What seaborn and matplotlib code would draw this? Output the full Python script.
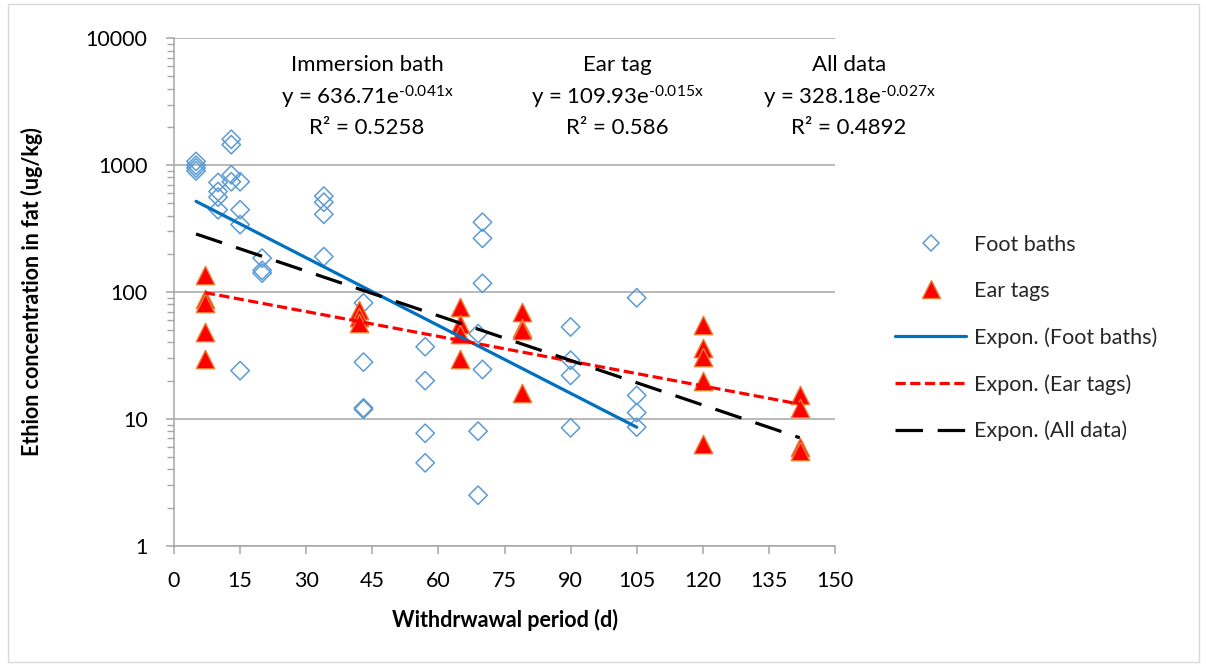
import numpy as np
import pandas as pd
import matplotlib
matplotlib.use("Agg")
import matplotlib.pyplot as plt
from matplotlib.lines import Line2D
from matplotlib.patches import Rectangle
from matplotlib.ticker import LogLocator, FixedLocator, NullFormatter
import seaborn as sns

# Foot-bath (immersion) residues: withdrawal day and ethion in fat (ug/kg)
foot_days = [5, 5, 5, 5,
             10, 10, 10, 10,
             13, 13, 13, 13,
             15, 15, 15, 15,
             20, 20, 20,
             34, 34, 34, 34,
             43, 43, 43, 43,
             57, 57, 57, 57,
             69, 69, 69,
             70, 70, 70, 70,
             90, 90, 90, 90,
             105, 105, 105, 105]
foot_conc = [1070, 1000, 950, 900,
             730, 620, 560, 445,
             1600, 1450, 840, 740,
             740, 445, 340, 24,
             185, 148, 141,
             570, 510, 410, 190,
             82, 28, 12.2, 11.9,
             37, 20, 7.7, 4.5,
             47, 8, 2.5,
             355, 265, 117, 24.5,
             53, 29, 22, 8.5,
             90, 15.3, 11.2, 8.6]

# Ear-tag residues
tag_days = [7, 7, 7, 7, 7,
            42, 42, 42,
            65, 65, 65, 65,
            79, 79, 79, 79,
            120, 120, 120, 120, 120,
            142, 142, 142, 142]
tag_conc = [135, 88, 82, 48, 29.5,
            72, 63, 57,
            76, 56, 47, 29.5,
            70, 52, 50, 16,
            55, 36, 31, 20, 6.3,
            15.3, 12.1, 6.0, 5.6]

# Exponential trendlines y = a * exp(b * x) as reported on the chart
fit_names = ["Foot baths", "Ear tags", "All data"]
fit_a = [636.71, 109.93, 328.18]
fit_b = [-0.041, -0.015, -0.027]
fit_r2 = ["0.5258", "0.586", "0.4892"]
fit_titles = ["Immersion bath", "Ear tag", "All data"]

x_ticks = list(range(0, 151, 15))
y_ticks = [1, 10, 100, 1000, 10000]

sns.set_theme(style="white")
plt.rcParams["font.family"] = ["Lato", "DejaVu Sans"]
plt.rcParams["mathtext.fontset"] = "custom"
plt.rcParams["mathtext.rm"] = "Lato"

W, H = 1206, 664
fig = plt.figure(figsize=(W / 100, H / 100), dpi=100)
fig.patch.set_facecolor("white")
ax = fig.add_axes([174 / W, 1 - 545.7 / H, (835 - 174) / W, (545.7 - 38.3) / H])

df_foot = pd.DataFrame({"day": foot_days, "conc": foot_conc})
df_tag = pd.DataFrame({"day": tag_days, "conc": tag_conc})

foot_color = "#5B9BD5"
sns.scatterplot(data=df_foot, x="day", y="conc", ax=ax, marker="D", s=88,
                facecolor="none", edgecolor=foot_color, linewidth=1.1,
                zorder=3, legend=False)
sns.scatterplot(data=df_tag, x="day", y="conc", ax=ax, marker="^", s=175,
                color="#FF0000", edgecolor="#ED7D31", linewidth=1.0,
                zorder=4, legend=False)

# trendline extents follow the data range of each series
all_days = foot_days + tag_days
ranges = [(min(foot_days), max(foot_days)),
          (min(tag_days), max(tag_days)),
          (min(all_days), max(all_days))]
line_styles = [
    dict(color="#0070C0", linestyle="-"),
    dict(color="#FF0000", dashes=(3.2, 1.4)),
    dict(color="#000000", dashes=(8.6, 4.6)),
]
for (lo, hi), a, b, st in zip(ranges, fit_a, fit_b, line_styles):
    xs = np.linspace(lo, hi, 50)
    tl = pd.DataFrame({"day": xs, "conc": a * np.exp(b * xs)})
    kw = dict(st)
    dashes = kw.pop("dashes", None)
    sns.lineplot(data=tl, x="day", y="conc", ax=ax, linewidth=2.3,
                 zorder=5, legend=False, **kw)
    if dashes is not None:
        ax.lines[-1].set_dashes(dashes)
        ax.lines[-1].set_dash_capstyle("butt")

ax.set_yscale("log")
ax.set_xlim(0, 150)
ax.set_ylim(1, 10000)
ax.xaxis.set_major_locator(FixedLocator(x_ticks))
ax.set_xticklabels([str(t) for t in x_ticks])
ax.yaxis.set_major_locator(FixedLocator(y_ticks))
ax.set_yticklabels([str(t) for t in y_ticks])
ax.yaxis.set_minor_locator(LogLocator(base=10, subs=np.arange(2, 10)))
ax.yaxis.set_minor_formatter(NullFormatter())

axis_gray = "#A6A6A6"
ax.grid(axis="y", which="major", color=axis_gray, linewidth=1.1)
ax.grid(axis="x", visible=False)
for side in ("top", "right"):
    ax.spines[side].set_visible(False)
for side in ("left", "bottom"):
    ax.spines[side].set_color(axis_gray)
    ax.spines[side].set_linewidth(1.1)

ax.tick_params(axis="y", which="major", direction="out", length=6, width=1.1,
               color=axis_gray, pad=13, labelsize=15.5, labelcolor="black",
               left=True)
ax.tick_params(axis="y", which="minor", direction="out", length=5, width=1.0,
               color=axis_gray, left=True)
ax.tick_params(axis="x", which="major", direction="out", length=6, width=1.1,
               color=axis_gray, pad=12, labelsize=15.5, labelcolor="black",
               bottom=True)

ax.set_xlabel("Withdrwawal period (d)", fontsize=15.5, fontweight="bold",
              color="black")
ax.set_ylabel("Ethion concentration in fat (ug/kg)", fontsize=15.5,
              fontweight="bold", color="black")
ax.xaxis.set_label_coords(0.5, (545.7 - 609) / (545.7 - 38.3))
ax.yaxis.set_label_coords((43 - 174) / (835 - 174), 0.5)

# trendline equations above the plot
centers = [367, 617, 849]
for cx, title, a, b, r2 in zip(centers, fit_titles, fit_a, fit_b, fit_r2):
    fig.text(cx / W, 1 - 65 / H, title, ha="center", va="center",
             fontsize=16, color="black")
    fig.text(cx / W, 1 - 97 / H,
             "y = %.2fe$\\mathregular{^{\u2010%.3fx}}$" % (a, abs(b)),
             ha="center", va="center", fontsize=16, color="black")
    fig.text(cx / W, 1 - 128 / H, "R² = %s" % r2, ha="center", va="center",
             fontsize=16, color="black")

handles = [
    Line2D([], [], linestyle="none", marker="D", markersize=8.5,
           markerfacecolor="none", markeredgecolor=foot_color,
           markeredgewidth=1.1),
    Line2D([], [], linestyle="none", marker="^", markersize=12.5,
           markerfacecolor="#FF0000", markeredgecolor="#ED7D31",
           markeredgewidth=1.0),
    Line2D([], [], color="#0070C0", linewidth=2.3),
    Line2D([], [], color="#FF0000", linewidth=2.3, dashes=(3.2, 1.4),
           dash_capstyle="butt"),
    Line2D([], [], color="#000000", linewidth=2.3, dashes=(8.6, 4.6),
           dash_capstyle="butt"),
]
labels = ["Foot baths", "Ear tags"] + ["Expon. (%s)" % n for n in fit_names]
fig.legend(handles, labels, loc="center left",
           bbox_to_anchor=(895 / W, 1 - 338 / H), frameon=False,
           fontsize=15.5, handlelength=3.3, handletextpad=0.35,
           labelspacing=1.22, borderaxespad=0, borderpad=0)

fig.add_artist(Rectangle((8 / W, 2 / H), (1199 - 8) / W, (660 - 2) / H,
                         transform=fig.transFigure, fill=False,
                         edgecolor="#D9D9D9", linewidth=1.0))

fig.savefig("out.png", dpi=100, facecolor="white")
